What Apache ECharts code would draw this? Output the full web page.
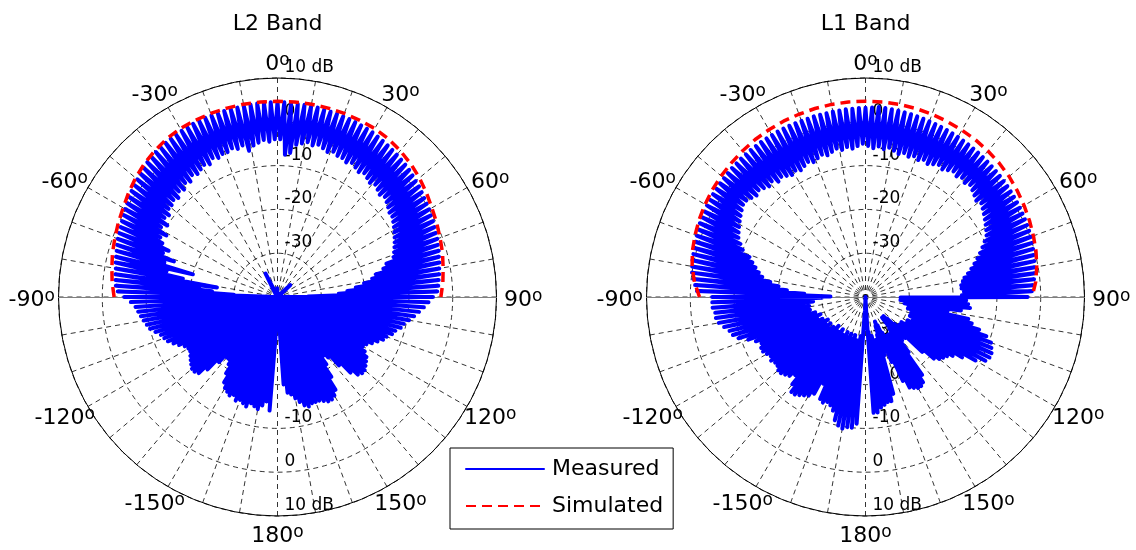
<!DOCTYPE html>
<html><head><meta charset="utf-8">
<script src="https://cdn.jsdelivr.net/npm/echarts@6/dist/echarts.min.js"></script>
<style>html,body{margin:0;padding:0;background:#fff}#c{width:1136px;height:550px}</style>
</head><body><div id="c"></div><script>
// ---------------- data ----------------
const titles = ['L2 Band', 'L1 Band'];
const seriesNames = ['Measured', 'Simulated'];
const radialMin = -40, radialMax = 10, radialStep = 10;      // dB
const spokeStep = 10;                                         // degrees
const angleTickLabels = [-150, -120, -90, -60, -30, 0, 30, 60, 90, 120, 150, 180];
const angleLabelRadius = 14.5;                                // dB (just outside the 10 dB ring)

// measured samples every 1 degree, -180 .. 180
const measAngles = [];
for (let a = -180; a <= 180; a++) measAngles.push(a);
// simulated samples every 5 degrees, -90 .. 90
const simAngles = [];
for (let a = -90; a <= 90; a += 5) simAngles.push(a);

const l2Measured = [
  -39, -41, -38, -30, -14, -38, -16, -37, -15, -39,
  -14, -38, -14.5, -39, -15, -37, -14, -40, -14.5, -38,
  -15, -39, -14.5, -38, -15.5, -40, -15, -38, -15.5, -39,
  -16, -38, -17, -40, -19, -38, -21, -39, -22, -37,
  -22, -39, -20, -38, -17, -40, -15, -44, -14.5, -39,
  -14.5, -38, -15, -40, -15.5, -37, -16, -39, -16.5, -38,
  -16.5, -40, -16, -38, -15, -39, -14, -38, -13, -40,
  -12.5, -37, -12, -39, -11, -38, -10, -40, -9.5, -38,
  -9, -39, -8.5, -37, -8, -39, -7.5, -40, -6.5, -41,
  -5, -38, -3.5, -30, -3, -25, -2.8, -22, -2.6, -26,
  -2.5, -18, -2.2, -14, -2, -20, -1.8, -13, -1.5, -15,
  -1.2, -12, -1, -13, -0.8, -11, -0.5, -10, -0.2, -11,
  0.2, -9, 0.5, -10, 0.8, -8.5, 1.2, -9, 1.5, -8,
  1.8, -8, 2.2, -7.5, 2.5, -8, 2.8, -7, 3, -7.5,
  3.2, -6.5, 3.4, -7, 3.5, -6, 3.6, -6.5, 3.8, -6,
  3.8, -5.5, 3.9, -6, 4, -5, 4, -5.5, 4.1, -5,
  4.1, -5, 4.2, -4.5, 4.2, -5, 4.3, -4.5, 4.2, -6,
  4.3, -5, 4.4, -4.5, 4.4, -4, 4.5, -4.5, 4.5, -4,
  4.6, -4, 4.5, -7.5, 4.4, -7, 4.3, -5, 4.3, -4.5,
  4.2, -4, 4.2, -4.5, 4.1, -4, 4, -4.5, 4, -5,
  3.9, -4.5, 3.8, -5, 3.7, -5, 3.6, -5.5, 3.5, -5,
  3.4, -5.5, 3.2, -6, 3, -5.5, 2.8, -6, 2.6, -6.5,
  2.4, -6, 2.2, -6.5, 2, -7, 1.8, -6.5, 1.5, -7,
  1.2, -7.5, 1, -8, 0.7, -8, 0.4, -8.5, 0.2, -9,
  0, -9.5, -0.3, -10, -0.5, -10.5, -0.8, -11, -1, -11.5,
  -1.2, -12, -1.5, -14, -1.7, -15, -2, -17, -2.2, -18,
  -2.5, -20, -2.7, -22, -3, -24, -3.2, -26, -3.5, -33,
  -4.5, -41, -5.5, -38, -6.5, -39, -7.5, -37, -8.5, -40,
  -9.5, -38, -10.5, -39, -11, -40, -12, -38, -12.5, -39,
  -13.5, -37, -14, -39, -15, -40, -16, -38, -17, -39,
  -17.5, -38, -16.5, -40, -15.5, -37, -15, -39, -14.5, -38,
  -14, -40, -14, -38, -14.5, -39, -16, -37, -19, -40,
  -22, -38, -23, -39, -21, -40, -18, -38, -15, -39,
  -14, -37, -13.5, -46, -13.5, -38, -14, -39, -14.5, -38,
  -14.5, -40, -14.5, -37, -14, -39, -14.5, -38, -15.5, -40,
  -16.5, -38, -17.5, -39, -18, -39, -20, -38, -42, -40,
  -39
];
const l2Simulated = [
  -2.7, -2.1, -1.6, -1.0, -0.5, 0.1, 0.7, 1.5, 2.3, 3.0, 3.6, 4.1, 4.4, 4.5, 4.6, 4.65, 4.7, 4.7,
  4.7,
  4.7, 4.7, 4.65, 4.6, 4.5, 4.4, 4.1, 3.6, 3.0, 2.3, 1.5, 0.7, 0.1, -0.5, -1.0, -1.6, -2.1, -2.7
];
const l1Measured = [
  -38, -40, -37, -36, -11, -30, -10, -31, -10, -30,
  -9.5, -29, -10, -30, -11, -31, -13, -29, -14, -30,
  -14.5, -31, -14, -29, -14.5, -30, -18, -31, -15, -29,
  -14, -30, -13.5, -29, -13, -31, -12.5, -30, -12.5, -29,
  -14, -30, -16, -31, -15, -29, -14.5, -30, -14, -28,
  -14, -29, -14.5, -30, -14.5, -28, -14, -29, -14.5, -30,
  -14, -28, -13.5, -29, -13.5, -27, -14, -28, -13, -29,
  -11.5, -27, -9.5, -28, -8.5, -26, -8, -27, -7, -26,
  -6, -27, -5.5, -26, -5.5, -28, -5, -26, -5, -30,
  -5, -32, -1.5, -26, -1, -22, -0.5, -20, 0, -18,
  0.2, -16, 0.4, -15, 0.5, -14, 0.6, -13, 0.8, -12,
  1, -10, 1.2, -9, 1.4, -8, 1.5, -7.5, 1.6, -7,
  1.8, -6.5, 1.9, -6, 2, -5.5, 2.1, -5, 2.2, -5,
  2.2, -5.5, 2.3, -6, 2.4, -5.5, 2.4, -6, 2.5, -6.5,
  2.5, -6, 2.6, -7, 2.6, -6.5, 2.7, -7, 2.7, -7.5,
  2.7, -7, 2.8, -7.5, 2.8, -7, 2.8, -6.5, 2.8, -7,
  2.8, -6.5, 2.8, -6, 2.9, -6.5, 2.9, -6, 2.9, -5.5,
  3, -6, 3, -5.5, 3.1, -6, 3.1, -5.5, 3.2, -5,
  3.2, -5.5, 3.3, -6, 3.5, -5.5, 3.4, -6, 3.3, -5.5,
  3.2, -6, 3.1, -6.5, 3, -6, 2.9, -6.5, 2.8, -6,
  2.7, -6.5, 2.6, -6, 2.5, -6.5, 2.4, -6, 2.3, -5.5,
  2.2, -6, 2.1, -5.5, 2, -5, 1.9, -5.5, 1.8, -5,
  1.7, -5.5, 1.6, -5, 1.5, -5.5, 1.4, -6, 1.3, -6.5,
  1.2, -6, 1.1, -6.5, 1, -7, 0.9, -7.5, 0.8, -8,
  0.7, -8.5, 0.6, -9, 0.5, -10, 0.4, -11, 0.3, -12,
  0.2, -13, 0, -14, -0.2, -15, -0.4, -16, -0.6, -17,
  -0.8, -17.5, -1, -18, -1.3, -18, -1.6, -17.5, -2, -18,
  -3, -32, -17, -31, -16.5, -32, -16, -30, -18, -31,
  -21, -30, -16, -29, -15, -30, -13, -28, -11, -29,
  -9.5, -28, -9, -29, -8.5, -27, -8.5, -28, -9, -29,
  -11, -28, -14, -29, -16, -30, -17, -29, -17.5, -30,
  -18, -29, -19, -31, -22, -33, -27, -34, -28, -33,
  -27, -34, -24, -31, -18, -30, -16.5, -29, -16, -30,
  -16, -29, -16.5, -30, -17, -31, -19, -33, -24, -34,
  -27, -33, -26, -31, -17, -30, -15.5, -29, -15.5, -30,
  -15, -31, -14.5, -30, -13.5, -32, -13.5, -36, -38, -40,
  -38
];
const l1Simulated = [
  -2.1, -0.8, 0.2, 0.9, 1.4, 1.9, 2.3, 2.7, 3.0, 3.3, 3.6, 3.9, 4.1, 4.3, 4.4, 4.55, 4.65, 4.7,
  4.7,
  4.7, 4.65, 4.55, 4.4, 4.2, 4.0, 3.8, 3.5, 3.2, 2.8, 2.3, 1.8, 1.3, 0.8, 0.3, -0.3, -1.0, -2.0
];

// ---------------- chart ----------------
const FONT = '"DejaVu Sans", "Liberation Sans", Arial, sans-serif';
const R = 219;
const centers = [[277.5, 297], [865.5, 297]];
const hidden = () => ({
  axisLine: { show: false }, axisTick: { show: false }, axisLabel: { show: false },
  splitLine: { show: false }, splitArea: { show: false }
});
const radialFmt = v => v === radialMin ? '' : (v === radialMax ? radialMax + ' dB' : String(v));
const radialLabel = (margin) => ({
  show: true, margin: margin, align: 'left', verticalAlign: 'bottom',
  fontSize: 17, fontFamily: FONT, color: '#000', padding: [0, 0, 2, 0], formatter: radialFmt
});
const noBorder = { textBorderWidth: 0, textBorderColor: 'transparent', textShadowBlur: 0 };

const polar = [], angleAxis = [], radiusAxis = [];
centers.forEach((c, k) => {
  const base = polar.length;
  for (let j = 0; j < 4; j++) polar.push({ center: c, radius: R });
  // 0: main grid + bottom radial labels
  angleAxis.push({
    polarIndex: base, type: 'value', min: -180, max: 180, interval: spokeStep,
    startAngle: 270, clockwise: true,
    axisLine: { show: true, lineStyle: { color: '#000', width: 1 } },
    axisTick: { show: false },
    splitLine: { show: true, lineStyle: { color: '#000', width: 0.8, type: [5, 4] } },
    axisLabel: { show: false }
  });
  radiusAxis.push({
    polarIndex: base, type: 'value', min: radialMin, max: radialMax, interval: radialStep,
    axisLine: { show: false }, axisTick: { show: false },
    splitLine: { show: true, lineStyle: { color: '#000', width: 0.8, type: [5, 4] } },
    axisLabel: radialLabel(7)
  });
  // 1: top radial labels
  angleAxis.push(Object.assign({ polarIndex: base + 1, type: 'value', min: -180, max: 180, startAngle: 90 }, hidden()));
  radiusAxis.push(Object.assign({ polarIndex: base + 1, type: 'value', min: radialMin, max: radialMax, interval: radialStep }, hidden(), {
    axisLabel: radialLabel(-7)
  }));
  // 2,3: solid horizontal axis line (±90°)
  [0, 180].forEach((sa, j) => {
    angleAxis.push(Object.assign({ polarIndex: base + 2 + j, type: 'value', min: -180, max: 180, startAngle: sa }, hidden()));
    radiusAxis.push(Object.assign({ polarIndex: base + 2 + j, type: 'value', min: radialMin, max: radialMax, z: 1 }, hidden(), {
      axisLine: { show: true, lineStyle: { color: '#808080', width: 1 } }
    }));
  });
});

const measuredSets = [l2Measured, l1Measured];
const simulatedSets = [l2Simulated, l1Simulated];
const series = [];
centers.forEach((c, k) => {
  series.push({
    name: seriesNames[0], type: 'line', coordinateSystem: 'polar', polarIndex: k * 4,
    symbol: 'none', clip: false, animation: false, z: 3,
    lineStyle: { color: '#0000ff', width: 4, join: 'round', cap: 'round' },
    itemStyle: { color: '#0000ff' },
    data: measuredSets[k].map((v, i) => [v, measAngles[i]])
  });
  series.push({
    name: seriesNames[1], type: 'line', coordinateSystem: 'polar', polarIndex: k * 4,
    symbol: 'none', clip: false, animation: false, z: 4,
    lineStyle: { color: '#ff0000', width: 3.5, type: [10, 6] },
    itemStyle: { color: '#ff0000' },
    data: simulatedSets[k].map((v, i) => [v, simAngles[i]])
  });
  // angle tick labels (0° at top, clockwise), placed through the polar scales;
  // small offset mimics the slightly elliptical MATLAB frame
  series.push({
    name: 'angleLabels' + k, type: 'scatter', coordinateSystem: 'polar', polarIndex: k * 4,
    symbol: 'circle', symbolSize: 1, clip: false, silent: true, animation: false, z: 5,
    itemStyle: { color: 'transparent' },
    label: Object.assign({
      show: true, position: 'inside', color: '#000', opacity: 1,
      formatter: p => '{n|' + p.value[1] + '}{s|o}',
      rich: {
        n: Object.assign({ fontSize: 22, fontFamily: FONT, color: '#000', lineHeight: 24 }, noBorder),
        s: Object.assign({ fontSize: 17, fontFamily: FONT, color: '#000', lineHeight: 9, verticalAlign: 'top' }, noBorder)
      }
    }, noBorder),
    data: angleTickLabels.map(a => {
      const t = a * Math.PI / 180;
      return { value: [angleLabelRadius, a], label: { offset: [7 * Math.sin(t), 3 + 2.5 * Math.cos(t)] } };
    })
  });
});

const chart = echarts.init(document.getElementById('c'));
chart.setOption({
  animation: false,
  backgroundColor: '#fff',
  textStyle: { fontFamily: FONT },
  title: titles.map((t, k) => ({
    text: t, left: centers[k][0] - 5, top: 8, textAlign: 'center',
    textStyle: { fontSize: 22, fontWeight: 'normal', color: '#000', fontFamily: FONT }
  })),
  polar, angleAxis, radiusAxis,
  legend: {
    data: seriesNames, orient: 'vertical', left: 450, top: 448,
    itemWidth: 78, itemHeight: 14, itemGap: 15, padding: [10, 10, 12, 15],
    borderColor: '#000', borderWidth: 1, backgroundColor: '#fff', selectedMode: false,
    itemStyle: { opacity: 0, color: 'transparent', borderWidth: 0 },
    textStyle: { fontSize: 22, color: '#000', fontFamily: FONT, padding: [0, 0, 0, 3] }, z: 10
  },
  series
});
</script></body></html>
